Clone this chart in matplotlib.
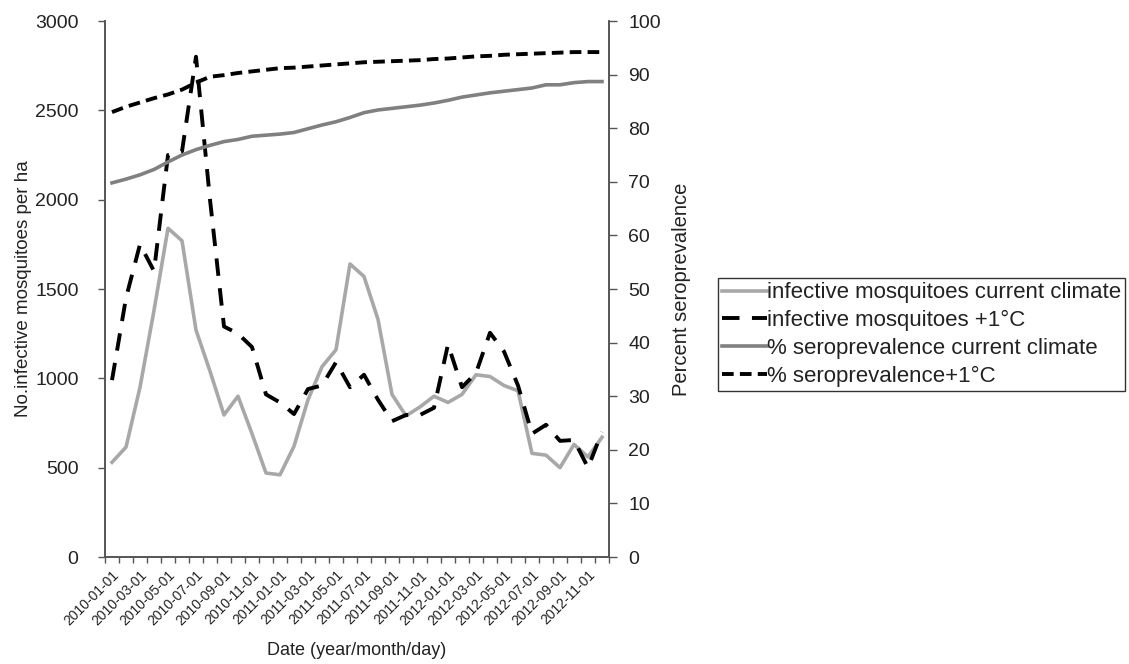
import matplotlib
matplotlib.use("Agg")
import matplotlib.pyplot as plt
import numpy as np

plt.rcParams['font.family'] = ['Liberation Sans', 'DejaVu Sans']

months = [f"{y}-{m:02d}-01" for y in (2010, 2011, 2012) for m in range(1, 13)]

mosq_current = [530, 615, 950, 1380, 1840, 1770, 1270, 1040, 795, 900,
                690, 470, 460, 620, 880, 1065, 1160, 1640, 1570, 1330,
                910, 790, 840, 900, 865, 910, 1020, 1010, 960, 930,
                580, 570, 500, 630, 560, 670]
mosq_plus1 = [990, 1450, 1750, 1600, 2250, 2270, 2800, 2000, 1290, 1250,
              1175, 910, 865, 800, 940, 960, 1090, 950, 1020, 880,
              760, 795, 795, 835, 1190, 950, 1030, 1255, 1150, 960,
              690, 740, 650, 655, 500, 700]
sero_current = [69.8, 70.5, 71.3, 72.3, 73.7, 75.0, 76.0, 76.8, 77.5, 77.9,
                78.5, 78.7, 78.9, 79.2, 79.9, 80.6, 81.2, 82.0, 82.9, 83.4,
                83.7, 84.0, 84.3, 84.7, 85.2, 85.8, 86.2, 86.6, 86.9, 87.2,
                87.5, 88.1, 88.1, 88.5, 88.7, 88.7]
sero_plus1 = [83.0, 84.0, 84.8, 85.6, 86.3, 87.2, 88.5, 89.6, 89.9, 90.3,
              90.6, 90.9, 91.2, 91.3, 91.5, 91.7, 91.9, 92.1, 92.3, 92.4,
              92.5, 92.6, 92.7, 92.9, 93.0, 93.2, 93.4, 93.5, 93.7, 93.8,
              93.9, 94.0, 94.1, 94.2, 94.2, 94.2]

labels = ["infective mosquitoes current climate", "infective mosquitoes +1\u00b0C",
          "% seroprevalence current climate", "% seroprevalence+1\u00b0C"]

txt = '#222222'
axc = '#555555'

fig = plt.figure(figsize=(11.29, 6.64), dpi=100)
ax = fig.add_axes([105/1129, 1-557/664, (609-105)/1129, (557-21)/664])
ax2 = ax.twinx()

x = np.arange(len(months))
l1, = ax.plot(x, mosq_current, color='#a8a8a8', lw=2.6)
l2, = ax.plot(x, mosq_plus1, color='black', lw=2.8, dashes=(4.5, 3.2))
l3, = ax2.plot(x, sero_current, color='#808080', lw=2.6)
l4, = ax2.plot(x, sero_plus1, color='black', lw=2.8, dashes=(3.0, 1.6))

ax.set_xlim(-0.5, len(months) - 0.5)
ax.set_ylim(0, 3000)
ax2.set_ylim(0, 100)
ax.set_yticks(np.arange(0, 3001, 500))
ax2.set_yticks(np.arange(0, 101, 10))

ax.set_xticks(x[::2])
ax.set_xticklabels(months[::2], rotation=45, ha='right', rotation_mode='anchor',
                   fontsize=10, color=txt)
ax.set_xticks(np.arange(-0.5, len(months)), minor=True)
ax.tick_params(axis='x', which='major', length=0, pad=8)
ax.tick_params(axis='x', which='minor', length=4, width=1, color=axc, direction='out')
ax.tick_params(axis='y', length=5, width=1, color=axc, labelsize=14, labelcolor=txt, pad=14)
ax2.tick_params(axis='y', length=6, width=1, color=axc, labelsize=14, labelcolor=txt, pad=8)

for a in (ax, ax2):
    a.spines['top'].set_visible(False)
    for s in ('left', 'right', 'bottom'):
        a.spines[s].set_color(axc)
        a.spines[s].set_linewidth(1.2)

ax.set_ylabel("No.infective mosquitoes per ha", fontsize=13.5, color=txt, labelpad=2)
ax2.set_ylabel("Percent seroprevalence", fontsize=14.5, color=txt, labelpad=8)
ax.set_xlabel("Date (year/month/day)", fontsize=13, color=txt, labelpad=10)

leg = fig.legend([l1, l2, l3, l4], labels, loc='upper left',
                 bbox_to_anchor=(718/1129, 1-278/664), fontsize=16,
                 frameon=True, fancybox=False, edgecolor='black',
                 handlelength=2.0, handletextpad=0.0, borderpad=0.2,
                 labelspacing=0.3, borderaxespad=0)
leg.get_frame().set_linewidth(1.0)
for t in leg.get_texts():
    t.set_color(txt)

fig.savefig("out.png", dpi=100)
